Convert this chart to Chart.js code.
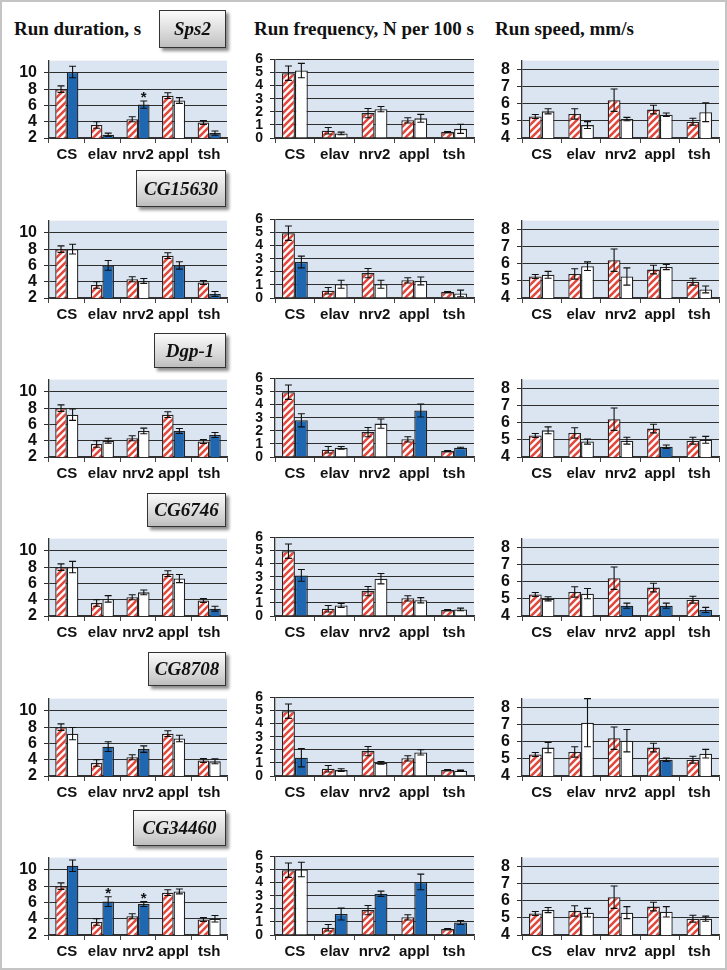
<!DOCTYPE html>
<html>
<head>
<meta charset="utf-8">
<script src="https://cdn.jsdelivr.net/npm/chart.js@4"></script>
<style>
  body { margin: 0; background: #fff; }
  #fig { position: relative; width: 727px; height: 970px; box-sizing: border-box; border: 2px solid #c4c4c4; background: #fff; overflow: hidden; }
  #fig canvas { position: absolute; }
  .title { position: absolute; top: 17px; font: bold 19px "Liberation Serif", "DejaVu Serif", serif; line-height: 19px; color: #111; white-space: nowrap; }
  .gene { position: absolute; display: flex; align-items: center; justify-content: center; box-sizing: border-box;
          border: 1px solid #333; background: linear-gradient(#fbfbfb, #d0d0d0 75%, #bdbdbd);
          box-shadow: 3px 3px 3px rgba(0,0,0,0.45);
          font: italic bold 19px "Liberation Serif", "DejaVu Serif", serif; color: #111; }
</style>
</head>
<body>
<div id="fig">
  <div class="title" style="left:12px">Run duration, s</div>
  <div class="title" style="left:252px">Run frequency, N per 100 s</div>
  <div class="title" style="left:493px">Run speed, mm/s</div>
</div>
<script>
// fly lines (x categories) and the six knock-down genes (rows)
const lines = ['CS', 'elav', 'nrv2', 'appl', 'tsh'];
const genes = ['Sps2', 'CG15630', 'Dgp-1', 'CG6746', 'CG8708', 'CG34460'];

// control bars (red hatched), same in every row
const durCtrl = [8.0, 3.6, 4.3, 7.2, 3.9];
const durCtrlErr = [0.4, 0.4, 0.3, 0.35, 0.25];
const freqCtrl = [4.95, 0.55, 1.9, 1.35, 0.45];
const freqCtrlErr = [0.55, 0.25, 0.35, 0.2, 0.05];
const speedCtrl = [5.25, 5.4, 6.2, 5.65, 4.95];
const speedCtrlErr = [0.12, 0.3, 0.65, 0.25, 0.2];

// knock-down bars, one row per gene
const durKd = [
  [10.1, 2.4, 6.1, 6.6, 2.6],
  [8.0, 6.0, 4.1, 6.0, 2.5],
  [7.2, 4.0, 5.2, 5.2, 4.7],
  [8.0, 4.1, 4.9, 6.6, 2.9],
  [7.2, 5.6, 5.3, 6.6, 3.8],
  [10.5, 6.1, 5.8, 7.35, 4.0]
];
const durKdErr = [
  [0.7, 0.2, 0.45, 0.35, 0.25],
  [0.6, 0.6, 0.3, 0.45, 0.3],
  [0.7, 0.3, 0.35, 0.3, 0.3],
  [0.7, 0.4, 0.3, 0.5, 0.3],
  [0.75, 0.6, 0.4, 0.4, 0.3],
  [0.7, 0.6, 0.3, 0.3, 0.4]
];
const durSig = [
  [1, 1, 1, 0, 1],
  [0, 1, 0, 1, 1],
  [0, 0, 0, 1, 1],
  [0, 0, 0, 0, 1],
  [0, 1, 1, 0, 0],
  [1, 1, 1, 0, 0]
];
const durStar = [
  [0, 0, 1, 0, 0],
  [0, 0, 0, 0, 0],
  [0, 0, 0, 0, 0],
  [0, 0, 0, 0, 0],
  [0, 0, 0, 0, 0],
  [0, 1, 1, 0, 0]
];

const freqKd = [
  [5.15, 0.35, 2.2, 1.5, 0.7],
  [2.75, 1.05, 1.05, 1.3, 0.35],
  [2.8, 0.7, 2.55, 3.55, 0.7],
  [3.1, 0.8, 2.85, 1.2, 0.5],
  [1.4, 0.45, 1.0, 1.8, 0.4],
  [5.0, 1.6, 3.15, 4.05, 0.95]
];
const freqKdErr = [
  [0.55, 0.1, 0.2, 0.3, 0.35],
  [0.45, 0.3, 0.3, 0.3, 0.25],
  [0.5, 0.1, 0.35, 0.5, 0.05],
  [0.45, 0.15, 0.4, 0.2, 0.1],
  [0.7, 0.1, 0.1, 0.2, 0.05],
  [0.55, 0.45, 0.2, 0.6, 0.15]
];
const freqSig = [
  [0, 0, 0, 0, 0],
  [1, 0, 0, 0, 0],
  [1, 0, 0, 1, 1],
  [1, 0, 0, 0, 0],
  [1, 0, 0, 0, 0],
  [0, 1, 1, 1, 1]
];

const speedKd = [
  [5.55, 4.75, 5.1, 5.35, 5.5],
  [5.35, 5.85, 5.25, 5.8, 4.5],
  [5.55, 4.9, 4.95, 4.6, 5.0],
  [5.0, 5.3, 4.6, 4.6, 4.35],
  [5.65, 7.1, 6.05, 4.95, 5.3],
  [5.45, 5.3, 5.3, 5.35, 4.95]
];
const speedKdErr = [
  [0.15, 0.2, 0.1, 0.1, 0.55],
  [0.2, 0.25, 0.5, 0.15, 0.2],
  [0.2, 0.15, 0.2, 0.1, 0.2],
  [0.12, 0.3, 0.15, 0.15, 0.15],
  [0.3, 1.4, 0.65, 0.1, 0.25],
  [0.15, 0.25, 0.35, 0.3, 0.15]
];
const speedSig = [
  [0, 0, 0, 0, 0],
  [0, 0, 0, 0, 0],
  [0, 0, 0, 1, 0],
  [0, 0, 1, 1, 1],
  [0, 0, 0, 1, 0],
  [0, 0, 0, 0, 0]
];

// y axis tick labels per column
const durTicks = [2, 4, 6, 8, 10];
const freqTicks = [0, 1, 2, 3, 4, 5, 6];
const speedTicks = [4, 5, 6, 7, 8];

const BLUE = '#1f67b0';
const fig = document.getElementById('fig');

const rowTops = [52, 212, 371, 530, 690, 849];
const geneBoxes = [
  [157, 8, 67, 38], [134, 168, 90, 37], [152, 331, 72, 35],
  [145, 491, 79, 34], [146, 650, 78, 34], [131, 808, 93, 36]
];

const columns = [
  { ctrl: durCtrl, ctrlErr: durCtrlErr, kd: durKd, kdErr: durKdErr, sig: durSig, star: durStar,
    min: 2, max: 11.5, ticks: durTicks, left: 10, width: 218, axisW: 37, tickSize: 16 },
  { ctrl: freqCtrl, ctrlErr: freqCtrlErr, kd: freqKd, kdErr: freqKdErr, sig: freqSig, star: null,
    min: 0, max: 6, ticks: freqTicks, left: 245, width: 230, axisW: 28, tickSize: 14 },
  { ctrl: speedCtrl, ctrlErr: speedCtrlErr, kd: speedKd, kdErr: speedKdErr, sig: speedSig, star: null,
    min: 4, max: 8.5, ticks: speedTicks, left: 490, width: 230, axisW: 30, tickSize: 16 }
];

function hatch(ctx) {
  const c = document.createElement('canvas');
  c.width = c.height = 7;
  const g = c.getContext('2d');
  g.fillStyle = '#fff';
  g.fillRect(0, 0, 7, 7);
  g.strokeStyle = '#e4473c';
  g.lineWidth = 2.6;
  g.beginPath();
  g.moveTo(-1, 8); g.lineTo(8, -1);
  g.moveTo(-1, 1); g.lineTo(1, -1);
  g.moveTo(6, 8); g.lineTo(8, 6);
  g.stroke();
  return ctx.createPattern(c, 'repeat');
}

// light blue plot background
const plotBg = {
  id: 'plotBg',
  beforeDraw(chart) {
    const a = chart.chartArea, ctx = chart.ctx;
    ctx.save();
    ctx.fillStyle = '#dbe5f1';
    ctx.fillRect(a.left, a.top, a.right - a.left, a.bottom - a.top);
    ctx.restore();
  }
};

// error bars and significance stars
const errorBars = {
  id: 'errorBars',
  afterDatasetsDraw(chart) {
    const ctx = chart.ctx, y = chart.scales.y;
    chart.data.datasets.forEach((ds, i) => {
      chart.getDatasetMeta(i).data.forEach((bar, j) => {
        const v = ds.data[j], e = ds.err[j];
        const top = y.getPixelForValue(v + e), bot = y.getPixelForValue(v - e);
        ctx.save();
        ctx.strokeStyle = '#111';
        ctx.lineWidth = 1.1;
        ctx.beginPath();
        ctx.moveTo(bar.x, top); ctx.lineTo(bar.x, bot);
        ctx.moveTo(bar.x - 3.5, top); ctx.lineTo(bar.x + 3.5, top);
        ctx.moveTo(bar.x - 3.5, bot); ctx.lineTo(bar.x + 3.5, bot);
        ctx.stroke();
        if (ds.stars && ds.stars[j]) {
          ctx.fillStyle = '#111';
          ctx.font = 'bold 15px "Liberation Sans", Arial, sans-serif';
          ctx.textAlign = 'center';
          ctx.textBaseline = 'alphabetic';
          ctx.fillText('*', bar.x, top + 1);
        }
        ctx.restore();
      });
    });
  }
};

rowTops.forEach((rowTop, r) => {
  columns.forEach(col => {
    const cv = document.createElement('canvas');
    cv.width = col.width;
    cv.height = 124;
    cv.style.left = col.left + 'px';
    cv.style.top = (rowTop - 10) + 'px';
    fig.appendChild(cv);
    const ctx = cv.getContext('2d');

    new Chart(ctx, {
      type: 'bar',
      data: {
        labels: lines,
        datasets: [{
          data: col.ctrl,
          err: col.ctrlErr,
          backgroundColor: hatch(ctx),
          borderColor: '#222',
          borderWidth: 1.3
        }, {
          data: col.kd[r],
          err: col.kdErr[r],
          stars: col.star ? col.star[r] : null,
          backgroundColor: col.sig[r].map(s => s ? BLUE : '#fff'),
          borderColor: '#222',
          borderWidth: 1.3
        }]
      },
      options: {
        responsive: false,
        animation: false,
        devicePixelRatio: 1,
        layout: { padding: { top: 10, right: 3, left: 0, bottom: 0 } },
        categoryPercentage: 0.65,
        barPercentage: 1.0,
        plugins: { legend: { display: false }, tooltip: { enabled: false } },
        scales: {
          x: {
            grid: { offset: true, drawOnChartArea: false, tickLength: 5, color: '#444' },
            border: { color: '#333', width: 1.3 },
            ticks: {
              font: { family: '"Liberation Sans", Arial, sans-serif', weight: 'bold', size: 15 },
              color: '#111', padding: 3, maxRotation: 0, autoSkip: false
            },
            afterFit: s => { s.height = 30; }
          },
          y: {
            min: col.min,
            max: col.max,
            afterBuildTicks: s => { s.ticks = col.ticks.map(v => ({ value: v })); },
            grid: { color: '#2e2e2e', tickLength: 5, lineWidth: 1 },
            border: { color: '#333', width: 1.3 },
            ticks: {
              font: { family: '"Liberation Sans", Arial, sans-serif', weight: 'bold', size: col.tickSize },
              color: '#111', padding: 7, autoSkip: false
            },
            afterFit: s => { s.width = col.axisW; }
          }
        }
      },
      plugins: [plotBg, errorBars]
    });
  });

  const b = geneBoxes[r];
  const box = document.createElement('div');
  box.className = 'gene';
  box.style.left = b[0] + 'px';
  box.style.top = b[1] + 'px';
  box.style.width = b[2] + 'px';
  box.style.height = b[3] + 'px';
  box.textContent = genes[r];
  fig.appendChild(box);
});
</script>
</body>
</html>
